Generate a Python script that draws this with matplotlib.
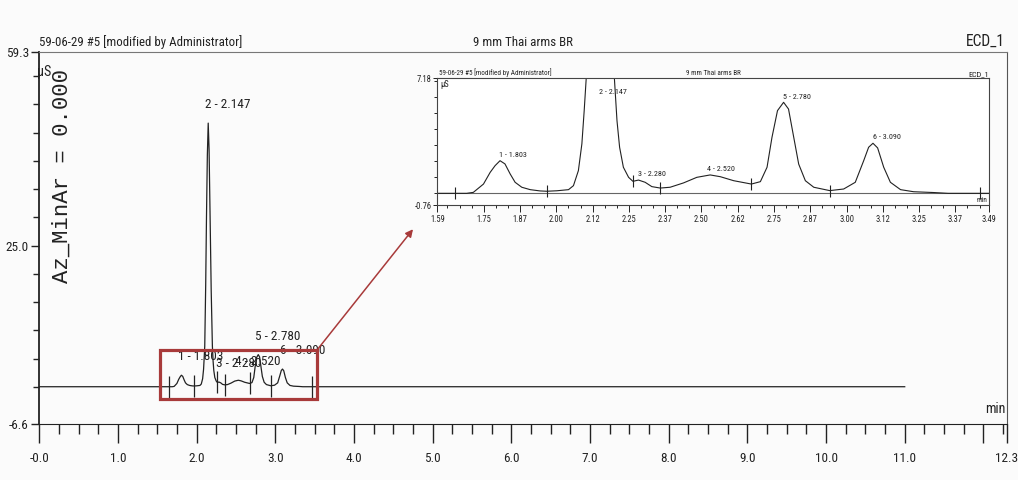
"""Ion chromatogram (ECD_1) of sample 9 mm Thai arms BR, with zoomed inset."""

import matplotlib
matplotlib.use("Agg")
import matplotlib.pyplot as plt
import matplotlib.patches as patches
import matplotlib.font_manager as fm
from matplotlib.ticker import FixedLocator, MultipleLocator
import numpy as np

# ---- data --------------------------------------------------------------
trace_t = [0.000, 1.691, 1.714, 1.749, 1.772, 1.789, 1.806, 1.823, 1.841, 1.858,
           1.881, 1.910, 1.944, 1.967, 2.002, 2.042, 2.059, 2.076, 2.088, 2.096,
           2.103, 2.115, 2.125, 2.136, 2.147, 2.158, 2.170, 2.185, 2.200, 2.209,
           2.218, 2.231, 2.249, 2.264, 2.283, 2.306, 2.329, 2.358, 2.392, 2.438,
           2.484, 2.530, 2.565, 2.611, 2.672, 2.703, 2.726, 2.743, 2.762, 2.783,
           2.800, 2.818, 2.835, 2.858, 2.887, 2.942, 2.990, 3.030, 3.059, 3.076,
           3.091, 3.107, 3.128, 3.151, 3.186, 3.231, 3.300, 3.350, 11.000]
trace_v = [0.00, 0.00, 0.06, 0.58, 1.31, 1.73, 2.04, 1.84, 1.21, 0.69,
           0.38, 0.23, 0.15, 0.13, 0.16, 0.23, 0.48, 1.42, 3.09, 5.17,
           7.20, 18.0, 30.0, 41.0, 46.7, 42.0, 31.0, 17.0, 7.20, 4.54,
           2.88, 1.63, 1.00, 0.75, 0.83, 0.69, 0.42, 0.33, 0.38, 0.65,
           1.00, 1.15, 1.04, 0.79, 0.58, 0.73, 1.63, 3.50, 5.17, 5.69,
           5.27, 3.50, 1.83, 0.79, 0.38, 0.17, 0.27, 0.69, 2.04, 2.88,
           3.13, 2.84, 1.63, 0.69, 0.23, 0.10, 0.05, 0.00, 0.00]

peak_no = [1, 2, 3, 4, 5, 6]
peak_time = [1.803, 2.147, 2.280, 2.520, 2.780, 3.090]
delim_time = [1.651, 1.967, 2.264, 2.358, 2.672, 2.942, 3.460]

main_xticks = [0, 1, 2, 3, 4, 5, 6, 7, 8, 9, 10, 11, 12, 12.3]
main_xlabels = ["-0.0", "1.0", "2.0", "3.0", "4.0", "5.0", "6.0", "7.0", "8.0",
                "9.0", "10.0", "11.0", "", "12.3"]
main_yticks = [-6.6, 25.0, 59.3]
main_ylabels = ["-6.6", "25.0", "59.3"]

zoom_xticks = [1.59, 1.75, 1.875, 2.0, 2.125, 2.25, 2.375, 2.5, 2.625, 2.75,
               2.875, 3.0, 3.125, 3.25, 3.375, 3.49]
zoom_xlabels = ["1.59", "1.75", "1.87", "2.00", "2.12", "2.25", "2.37", "2.50",
                "2.62", "2.75", "2.87", "3.00", "3.12", "3.25", "3.37", "3.49"]
zoom_yticks = [-0.76, 7.18]
zoom_ylabels = ["-0.76", "7.18"]

sample_info = "59-06-29 #5 [modified by Administrator]"
sample_name = "9 mm Thai arms BR"
channel = "ECD_1"
az_text = "Az_MinAr = 0.000"
# ---------------------------------------------------------------------------

# the original print uses a very narrow sans; take a condensed face if one exists
family, stretch, k = "Liberation Sans", "normal", 1.0
names = {(f.name, f.stretch) for f in fm.fontManager.ttflist}
for cand, st, kk in [("Liberation Sans Narrow", "normal", 1.22),
                     ("Liberation Sans Narrow", "condensed", 1.22),
                     ("Roboto Condensed", "normal", 1.12),
                     ("Roboto Condensed", "condensed", 1.12),
                     ("DejaVu Sans", "condensed", 0.98),
                     ("Open Sans Condensed", "condensed", 1.1)]:
    if (cand, st) in names:
        family, stretch, k = cand, st, kk
        break
plt.rcParams["font.family"] = [family, "DejaVu Sans"]
plt.rcParams["font.stretch"] = stretch

BG = "#fbfbfb"
INK = "#222222"
RED = "#a83a3a"

peak_labels = [f"{n} - {t:.3f}" for n, t in zip(peak_no, peak_time)]
peak_apex = np.interp(peak_time, trace_t, trace_v)
delim_v = np.interp(delim_time, trace_t, trace_v)

fig = plt.figure(figsize=(10.18, 4.80), dpi=100, facecolor=BG)

# ---- main chromatogram ----
ax = fig.add_axes([0.0386, 0.1167, 0.9506, 0.775], facecolor=BG)
ax.plot(trace_t, trace_v, color=INK, lw=0.9)
ax.plot(delim_time, delim_v, ls="none", marker="|", ms=16, mew=0.9, color=INK)
ax.set_xlim(0, 12.3)
ax.set_ylim(-6.6, 59.3)

ax.xaxis.set_major_locator(FixedLocator(main_xticks))
ax.set_xticklabels(main_xlabels)
ax.xaxis.set_minor_locator(MultipleLocator(0.25))
ax.yaxis.set_major_locator(FixedLocator(main_yticks))
ax.set_yticklabels(main_ylabels)
ax.yaxis.set_minor_locator(FixedLocator(np.arange(0, 59, 5)))
ax.tick_params(axis="x", which="major", direction="out", length=13.5, width=1,
               pad=7, labelsize=8.5 * k, colors=INK)
ax.tick_params(axis="x", which="minor", direction="out", length=7, width=1, colors=INK)
ax.tick_params(axis="y", which="major", direction="out", length=6, width=1,
               pad=1.5, labelsize=8.5 * k, colors=INK)
ax.tick_params(axis="y", which="minor", direction="out", length=4, width=1, colors=INK)

ax.spines["left"].set_linestyle((0, (1, 1)))
ax.spines["left"].set_linewidth(1.3)
ax.spines["left"].set_color(INK)
ax.spines["bottom"].set_color(INK)
ax.spines["top"].set_color("#777777")
ax.spines["right"].set_color("#555555")

ax.text(0.0, 1.008, sample_info, transform=ax.transAxes, ha="left", va="bottom",
        fontsize=8.3 * k, color=INK)
ax.text(0.5, 1.008, sample_name, transform=ax.transAxes, ha="center", va="bottom",
        fontsize=8.3 * k, color=INK)
ax.text(0.998, 1.008, channel, transform=ax.transAxes, ha="right", va="bottom",
        fontsize=10 * k, color=INK)
ax.text(-0.002, 0.946, "µS", transform=ax.transAxes, ha="left", va="center",
        fontsize=9 * k, color=INK)
ax.text(0.998, 0.04, "min", transform=ax.transAxes, ha="right", va="center",
        fontsize=9 * k, color=INK)
ax.text(0.0235, 0.667, az_text, transform=ax.transAxes, ha="center", va="center",
        rotation=90, fontsize=16, family="Liberation Mono", color=INK)

for lab, t, v in zip(peak_labels, peak_time, peak_apex):
    ax.annotate(lab, xy=(t, v), xytext=(-2, 13.5), textcoords="offset points",
                ha="left", va="center", fontsize=8.5 * k, color=INK)

ax.add_patch(patches.Rectangle((1.53, -2.2), 2.0, 8.7, fill=False, ec=RED,
                               lw=2.3, zorder=5))
ax.annotate("", xy=(4.75, 27.9), xytext=(3.53, 6.5),
            arrowprops=dict(arrowstyle="-|>", color=RED, lw=1.1,
                            mutation_scale=11, shrinkA=0, shrinkB=0))

# ---- zoomed inset ----
ins = fig.add_axes([0.4296, 0.5719, 0.5417, 0.2646], facecolor="white")
ins.axhline(0, color="#666666", lw=0.8)
ins.plot(trace_t, trace_v, color=INK, lw=0.8)
ins.plot(delim_time, delim_v, ls="none", marker="|", ms=8, mew=0.8, color=INK)
ins.set_xlim(1.59, 3.49)
ins.set_ylim(-0.76, 7.18)

ins.xaxis.set_major_locator(FixedLocator(zoom_xticks))
ins.set_xticklabels(zoom_xlabels)
ins.xaxis.set_minor_locator(MultipleLocator(0.125 / 3))
ins.yaxis.set_major_locator(FixedLocator(zoom_yticks))
ins.set_yticklabels(zoom_ylabels)
ins.yaxis.set_minor_locator(FixedLocator(np.arange(0, 7.1, 1.0)))
ins.tick_params(axis="x", which="major", direction="out", length=5, width=0.7,
                pad=2, labelsize=5.5 * k, colors=INK)
ins.tick_params(axis="x", which="minor", direction="out", length=2.5, width=0.7,
                colors=INK)
ins.tick_params(axis="y", which="major", direction="out", length=3, width=0.7,
                pad=1, labelsize=5.5 * k, colors=INK)
ins.tick_params(axis="y", which="minor", direction="out", length=2, width=0.7,
                colors=INK)
for s in ins.spines.values():
    s.set_color("#444444")
    s.set_linewidth(0.8)

ins.text(0.003, 1.01, sample_info, transform=ins.transAxes, ha="left",
         va="bottom", fontsize=4.6 * k, color=INK)
ins.text(0.5, 1.01, sample_name, transform=ins.transAxes, ha="center",
         va="bottom", fontsize=4.6 * k, color=INK)
ins.text(1.0, 1.01, channel, transform=ins.transAxes, ha="right",
         va="bottom", fontsize=5.2 * k, color=INK)
ins.text(0.005, 0.95, "µS", transform=ins.transAxes, ha="left", va="center",
         fontsize=5.5 * k, color=INK)
ins.text(0.997, 0.04, "min", transform=ins.transAxes, ha="right", va="center",
         fontsize=4.8 * k, color=INK)

for lab, t, v in zip(peak_labels, peak_time, peak_apex):
    ins.annotate(lab, xy=(t, min(v, 5.9)), xytext=(0, 4.8),
                 textcoords="offset points", ha="left", va="center",
                 fontsize=5.2 * k, color=INK)

fig.savefig("out.png", dpi=100, facecolor=BG)
